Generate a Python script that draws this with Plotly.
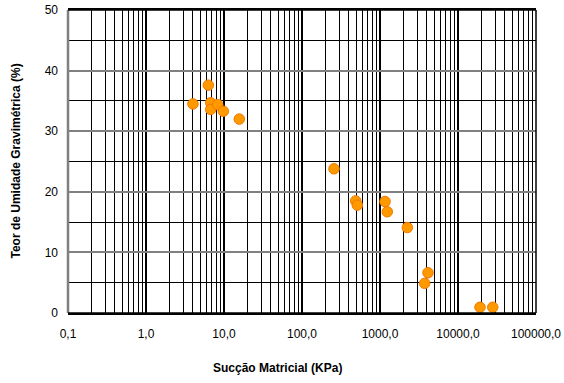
import plotly.graph_objects as go

suction_kpa = [4.0, 6.3, 6.75, 6.75, 8.3, 9.8, 15.7,
               257, 488, 512, 1160, 1240, 2240,
               3740, 4125, 19150, 27900]
moisture_pct = [34.5, 37.6, 34.7, 33.6, 34.4, 33.3, 32.0,
                23.8, 18.5, 17.8, 18.4, 16.7, 14.1,
                4.9, 6.65, 0.95, 0.95]

x_tickvals = [0.1, 1, 10, 100, 1000, 10000, 100000]
x_ticktext = ["0,1", "1,0", "10,0", "100,0", "1000,0", "10000,0", "100000,0"]

x_title = "Sucção Matricial (KPa)"
y_title = "Teor de Umidade Gravimétrica (%)"

fig = go.Figure()
fig.add_trace(go.Scatter(
    x=suction_kpa, y=moisture_pct, mode="markers",
    marker=dict(size=10.5, color="#FF9900", line=dict(color="#F07800", width=1)),
    showlegend=False, cliponaxis=False,
))

font = "Liberation Sans, Arial, sans-serif"
fig.update_layout(
    width=564, height=383,
    margin=dict(l=68, r=28, t=10, b=70),
    paper_bgcolor="white", plot_bgcolor="white",
    font=dict(family=font, size=12, color="black"),
    xaxis=dict(
        type="log", range=[-1, 5], automargin=False,
        tickvals=x_tickvals, ticktext=x_ticktext,
        showgrid=True, gridcolor="black", gridwidth=1.5,
        minor=dict(dtick="D1", showgrid=True, gridcolor="black", gridwidth=1, ticks=""),
        showline=True, linecolor="black", linewidth=1.5, mirror=True,
        ticks="", ticklen=0, ticklabelstandoff=9,
        zeroline=False,
    ),
    yaxis=dict(
        range=[0, 50], dtick=10, automargin=False,
        showgrid=True, gridcolor="#808080", gridwidth=2,
        minor=dict(dtick=5, showgrid=True, gridcolor="black", gridwidth=1, ticks=""),
        showline=False,
        ticks="", zeroline=False, ticklabelstandoff=9,
    ),
    annotations=[
        dict(text="<b>" + x_title + "</b>", xref="paper", yref="paper",
             x=0.4466, y=-0.1815, showarrow=False, xanchor="center", yanchor="middle",
             font=dict(size=12)),
        dict(text="<b>" + y_title + "</b>", xref="paper", yref="paper",
             x=-0.1132, y=0.5, showarrow=False, xanchor="center", yanchor="middle",
             textangle=-90, font=dict(size=12)),
    ],
    shapes=[
        dict(type="line", xref="paper", yref="paper", x0=0, x1=0, y0=0, y1=1,
             line=dict(color="#808080", width=2.5), layer="above"),
        dict(type="line", xref="paper", yref="paper", x0=0, x1=1, y0=0, y1=0,
             line=dict(color="black", width=1.5), layer="above"),
        dict(type="line", xref="paper", yref="paper", x0=0, x1=1, y0=1, y1=1,
             line=dict(color="black", width=1.5), layer="above"),
        dict(type="line", xref="paper", yref="paper", x0=1, x1=1, y0=0, y1=1,
             line=dict(color="black", width=1.5), layer="above"),
    ],
)

fig.write_html("out.html", config={"displayModeBar": False},
               post_script="document.body.style.margin='0';document.body.style.overflow='hidden';")
